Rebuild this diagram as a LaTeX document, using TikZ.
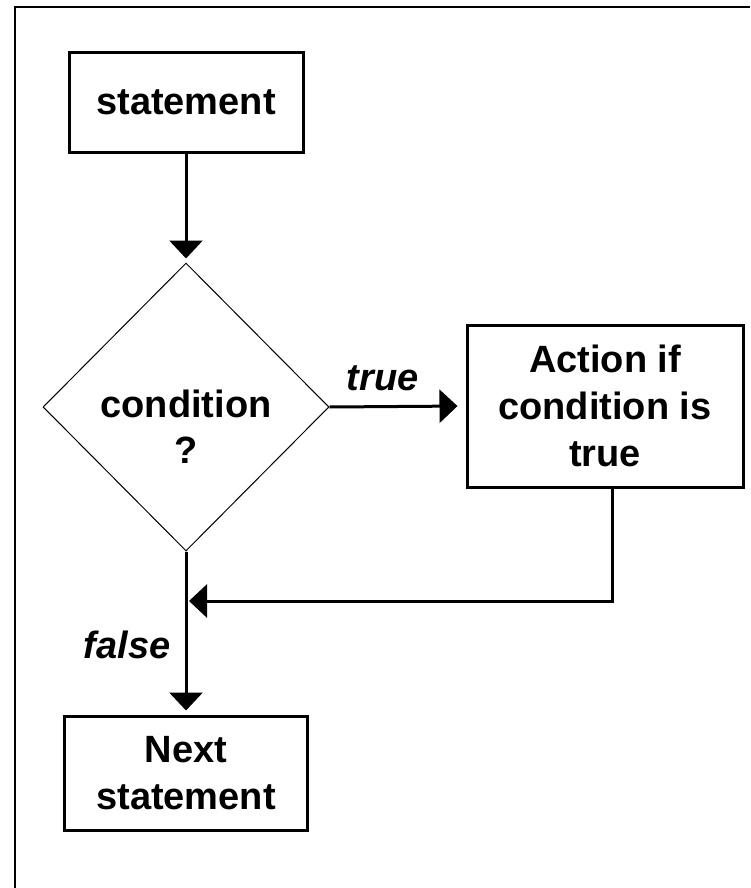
\documentclass[tikz,border=0pt]{standalone}
\usepackage{fontspec}
\setmainfont{Liberation Sans}
\usetikzlibrary{arrows.meta,shapes.geometric}
\begin{document}
\begin{tikzpicture}[x=1pt,y=-1pt,
  box/.style={draw, line width=3pt, rectangle, inner sep=0pt, align=center,
              font=\bfseries\fontsize{38}{47}\selectfont},
  dec/.style={draw, line width=1pt, diamond, inner sep=0pt,
              minimum width=286pt, minimum height=288pt},
  txt/.style={inner sep=0pt, align=center, font=\bfseries\fontsize{38}{46}\selectfont},
  lbl/.style={inner sep=0pt, font=\bfseries\itshape\fontsize{38}{46}\selectfont},
  conn/.style={line width=3pt},
  arr/.style={conn, -{Triangle[length=18pt,width=33pt]}, shorten >=4pt}]
\useasboundingbox (0,0) rectangle (750,888);
\draw[line width=2pt] (15,888) -- (15,7) -- (750,7);
\node[box, minimum width=234pt, minimum height=99pt] (stmt) at (186,102.5) {statement};
\node[dec] (cond) at (186,407) {};
\node[txt] (condt) at (186,427) {condition\\?};
\node[box, minimum width=276pt, minimum height=162pt] (act) at (605,406) {Action if\\condition is\\true};
\node[box, minimum width=243pt, minimum height=114pt] (next) at (186,773) {Next\\statement};
\coordinate (mr) at (612,601);
\draw[arr] (stmt.south) -- (cond.north);
\draw[arr, shorten >=8pt] (cond.east) -- node[lbl, above=14pt, pos=0.39] {true} (act.west);
\draw[arr] (cond.south) -- node[lbl, left=14pt, pos=0.57] {false} (next.north);
\draw[arr, shorten >=3pt] (act.south -| mr) -- (mr) -- (mr -| cond.south);
\end{tikzpicture}
\end{document}
